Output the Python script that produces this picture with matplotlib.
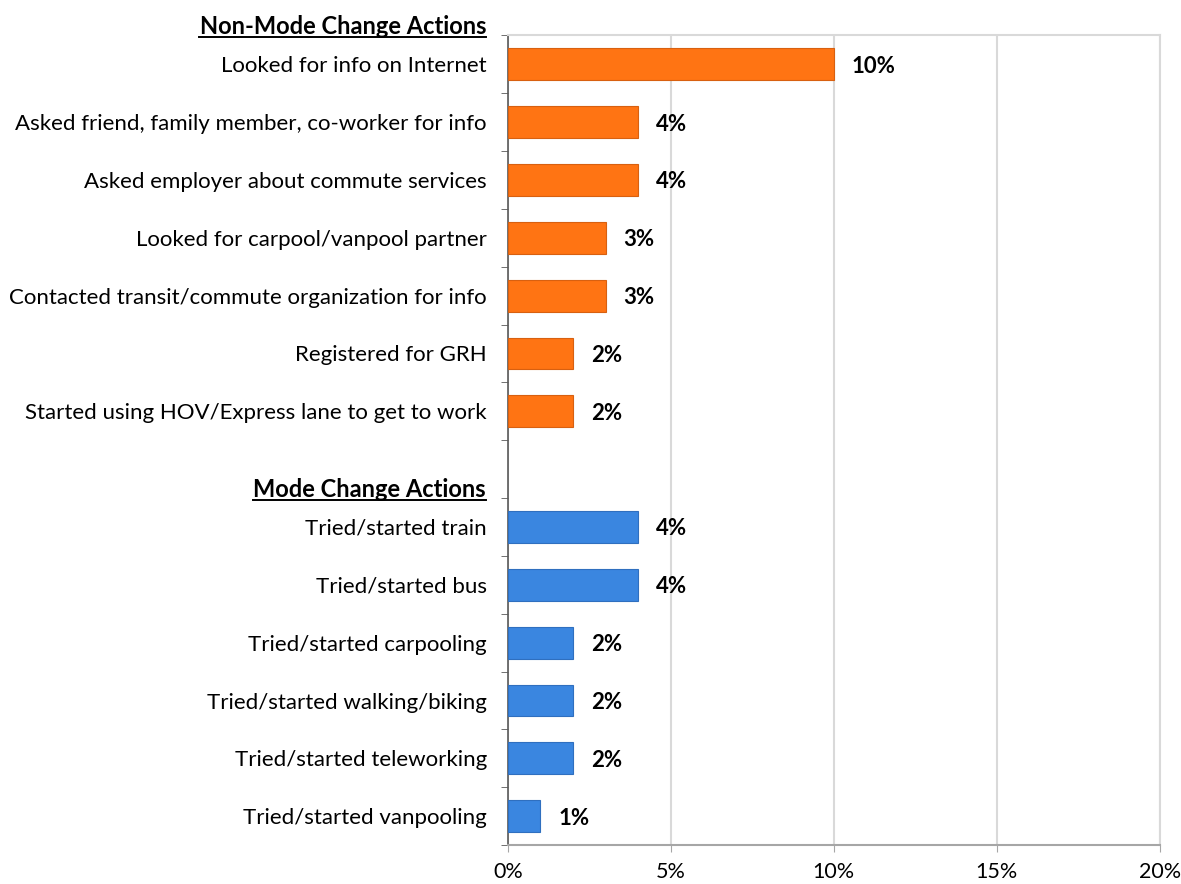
import matplotlib.pyplot as plt
from matplotlib.lines import Line2D

plt.rcParams["font.family"] = ["Lato", "DejaVu Sans"]

non_mode_labels = [
    "Looked for info on Internet",
    "Asked friend, family member, co-worker for info",
    "Asked employer about commute services",
    "Looked for carpool/vanpool partner",
    "Contacted transit/commute organization for info",
    "Registered for GRH",
    "Started using HOV/Express lane to get to work",
]
non_mode_values = [10, 4, 4, 3, 3, 2, 2]

mode_labels = [
    "Tried/started train",
    "Tried/started bus",
    "Tried/started carpooling",
    "Tried/started walking/biking",
    "Tried/started teleworking",
    "Tried/started vanpooling",
]
mode_values = [4, 4, 2, 2, 2, 1]

headers = ["Non-Mode Change Actions", "Mode Change Actions"]
x_ticks = [0, 5, 10, 15, 20]
x_tick_labels = ["0%", "5%", "10%", "15%", "20%"]

orange = "#FF7413"
blue = "#3A86E0"

fig = plt.figure(figsize=(11.81, 8.84), dpi=100)
ax = fig.add_axes([0.430, 0.044, 0.552, 0.916])

# row positions: group 1 rows 0..6, blank row 7 (header), group 2 rows 8..13
pos1 = list(range(len(non_mode_values)))
pos2 = [len(non_mode_values) + 1 + i for i in range(len(mode_values))]
n_rows = len(non_mode_values) + 1 + len(mode_values)

ax.barh(pos1, non_mode_values, height=0.55, color=orange, edgecolor="#D86010",
        linewidth=0.8, zorder=3)
ax.barh(pos2, mode_values, height=0.55, color=blue, edgecolor="#2F6FBF",
        linewidth=0.8, zorder=3)

for p, v in zip(pos1 + pos2, non_mode_values + mode_values):
    ax.text(v + 0.55, p, f"{v}%", va="center_baseline", ha="left", fontsize=16,
            fontweight="bold", zorder=4)

ax.set_xlim(0, 20)
ax.set_ylim(n_rows - 0.5, -0.5)
ax.set_xticks(x_ticks)
ax.set_xticklabels(x_tick_labels, fontsize=15.5)
ax.tick_params(axis="x", length=5, color="#A6A6A6", pad=7)

ax.set_yticks([b - 0.5 for b in range(n_rows + 1)], minor=True)
ax.set_yticks(pos1 + pos2)
ax.set_yticklabels(non_mode_labels + mode_labels, fontsize=16)
ax.tick_params(axis="y", which="major", length=0, pad=15)
ax.tick_params(axis="y", which="minor", length=5, color="#595959")

ax.grid(axis="x", color="#D9D9D9", linewidth=1.5, zorder=0)
ax.set_axisbelow(True)
for side in ["top", "right"]:
    ax.spines[side].set_color("#D9D9D9")
    ax.spines[side].set_linewidth(1.5)
ax.spines["bottom"].set_color("#A6A6A6")
ax.spines["bottom"].set_linewidth(1.5)
ax.spines["left"].set_color("#595959")
ax.spines["left"].set_linewidth(1.2)

# group headers (bold, underlined), right-aligned with the category labels
label_right = 486 / 1181
header_ys = [1 - 24 / 884, 1 - 487 / 884]
fig.canvas.draw()
renderer = fig.canvas.get_renderer()
for text, y in zip(headers, header_ys):
    t = fig.text(label_right, y, text, ha="right", va="center_baseline",
                 fontsize=17, fontweight="bold")
    bb = t.get_window_extent(renderer).transformed(fig.transFigure.inverted())
    uy = bb.y0 + 0.001
    fig.add_artist(Line2D([bb.x0, bb.x1], [uy, uy], color="black",
                          linewidth=1.4, transform=fig.transFigure))

fig.savefig("out.png", dpi=100)
